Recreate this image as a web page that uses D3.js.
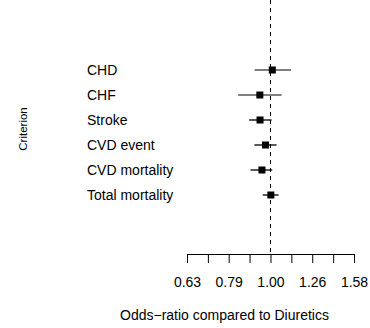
<!DOCTYPE html>
<html>
<head>
<meta charset="utf-8">
<script src="https://cdn.jsdelivr.net/npm/d3@7"></script>
<style>
  body { margin: 0; background: #fff; }
  text { font-family: "Liberation Sans", Arial, sans-serif; }
</style>
</head>
<body>
<div id="chart"></div>
<script>
// data
var criteria = ["CHD", "CHF", "Stroke", "CVD event", "CVD mortality", "Total mortality"];
var oddsRatio = [1.01, 0.943, 0.944, 0.973, 0.954, 1.002];
var lowerCI = [0.916, 0.837, 0.889, 0.915, 0.896, 0.958];
var upperCI = [1.12, 1.063, 1.006, 1.034, 1.01, 1.046];
var lineColors = ["#555", "#555", "#000", "#000", "#000", "#000"];
var tickValues = [0.631, 0.708, 0.794, 0.891, 1.0, 1.122, 1.259, 1.413, 1.585];
var tickLabels = ["0.63", "", "0.79", "", "1.00", "", "1.26", "", "1.58"];

var width = 370, height = 328;

var svg = d3.select("#chart")
    .append("svg")
    .attr("width", width)
    .attr("height", height);

// set the ranges
var x = d3.scaleLog().domain([0.631, 1.585]).range([187, 354]);
var y = d3.scalePoint().domain(criteria).range([70, 195]);

// reference line at 1
svg.append("line")
    .attr("x1", x(1)).attr("x2", x(1))
    .attr("y1", 0).attr("y2", 253)
    .attr("stroke", "#000")
    .attr("stroke-dasharray", "4,4");

// labels
svg.selectAll(".lab")
    .data(criteria)
    .enter().append("text")
    .attr("class", "lab")
    .attr("x", 87)
    .attr("y", d => y(d))
    .attr("dy", "0.35em")
    .style("font-size", "14px")
    .text(d => d);

// CI lines
var rows = criteria.map((c, i) => ({c: c, m: oddsRatio[i], lo: lowerCI[i], hi: upperCI[i], col: lineColors[i]}));

svg.selectAll(".ci")
    .data(rows)
    .enter().append("line")
    .attr("class", "ci")
    .attr("x1", d => x(d.lo))
    .attr("x2", d => x(d.hi))
    .attr("y1", d => y(d.c))
    .attr("y2", d => y(d.c))
    .attr("stroke", d => d.col)
    .attr("stroke-width", 1.3);

svg.selectAll(".pt")
    .data(rows)
    .enter().append("rect")
    .attr("class", "pt")
    .attr("x", d => x(d.m) - 3.5)
    .attr("y", d => y(d.c) - 3.5)
    .attr("width", 7)
    .attr("height", 7)
    .attr("fill", "#000");

// x axis
var axis = svg.append("g")
    .attr("transform", "translate(0,254)")
    .call(d3.axisBottom(x).tickValues(tickValues).tickSizeOuter(0).tickSize(9).tickPadding(14)
        .tickFormat((d, i) => tickLabels[i]));
axis.select(".domain").attr("stroke", "#000");
axis.selectAll("text")
    .style("font-family", "Liberation Sans, Arial, sans-serif")
    .style("font-size", "14px")
    .attr("fill", "#000");

// axis titles
svg.append("text")
    .attr("x", 224.5)
    .attr("y", 320)
    .attr("text-anchor", "middle")
    .style("font-size", "14px")
    .text("Odds\u2212ratio compared to Diuretics");

svg.append("text")
    .attr("transform", "translate(27,129) rotate(-90)")
    .attr("text-anchor", "middle")
    .style("font-size", "11.5px")
    .text("Criterion");
</script>
</body>
</html>
